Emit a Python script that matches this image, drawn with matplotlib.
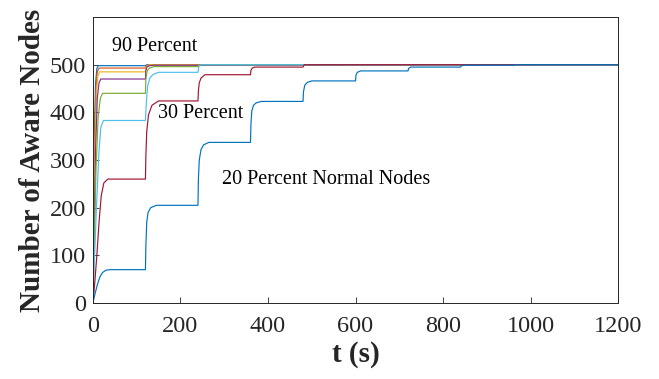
import matplotlib.pyplot as plt

plt.rcParams['font.family'] = ['Liberation Serif', 'DejaVu Serif']

# time (s) and aware-node counts, one pair per series
t90 = [0, 2, 4, 6, 9, 12, 120, 121, 124, 130, 1200]
n90 = [0, 200, 380, 460, 492, 498, 498, 499, 500, 500, 500]

t80 = [0, 2, 4, 7, 10, 14, 120, 121, 124, 130, 1200]
n80 = [0, 180, 350, 450, 485, 493, 493, 497, 499, 500, 500]

t70 = [0, 2, 5, 8, 11, 15, 120, 121, 124, 130, 1200]
n70 = [0, 160, 340, 440, 475, 485, 485, 494, 498, 500, 500]

t60 = [0, 3, 6, 10, 14, 18, 120, 121, 124, 130, 140, 1200]
n60 = [0, 150, 320, 430, 462, 470, 470, 488, 496, 498, 499, 500]

t50 = [0, 3, 7, 12, 17, 22, 120, 121, 124, 129, 140, 240, 242, 248, 1200]
n50 = [0, 120, 280, 390, 430, 440, 440, 470, 487, 493, 496, 496, 499, 500, 500]

t40 = [0, 3, 8, 14, 18, 24, 120, 122, 125, 130, 138, 150, 240, 242, 248, 1200]
n40 = [0, 80, 200, 320, 368, 383, 383, 420, 455, 472, 480, 484, 484, 497, 500, 500]

t30 = [0, 4, 9, 14, 19, 25, 34, 120, 121, 123, 127, 135, 150, 240, 241, 243, 247, 256,
       360, 361, 364, 370, 480, 483, 1200]
n30 = [0, 40, 100, 170, 225, 252, 260, 260, 310, 360, 395, 415, 424, 424, 445, 462, 472, 479,
       479, 488, 493, 495, 495, 500, 500]

t20 = [0, 5, 10, 16, 22, 30, 40, 120, 121, 123, 126, 132, 145, 240, 241, 243, 247, 253,
       265, 360, 361, 363, 367, 373, 385, 480, 481, 484, 490, 500, 600, 601, 604, 612,
       720, 721, 726, 840, 842, 850, 960, 965, 1200]
n20 = [0, 20, 38, 55, 64, 69, 70, 70, 120, 170, 190, 200, 205, 205, 260, 300, 322, 332,
       337, 337, 375, 403, 415, 420, 423, 423, 443, 457, 463, 466, 466, 478, 484, 487,
       487, 492, 495, 495, 498, 499, 499, 500, 500]

series = [(t90, n90, '#0072BD'), (t80, n80, '#D95319'), (t70, n70, '#EDB120'),
          (t60, n60, '#7E2F8E'), (t50, n50, '#77AC30'), (t40, n40, '#4DBEEE'),
          (t30, n30, '#A2142F'), (t20, n20, '#0072BD')]

fig = plt.figure(figsize=(6.59, 3.79), dpi=100)
ax = fig.add_axes([0.141, 0.2005, 0.797, 0.7545])

for t, n, c in series:
    ax.plot(t, n, color=c, linewidth=0.85)

ax.text(43, 538, '90 Percent', fontsize=14.5, va='center')
ax.text(149, 397, '30 Percent', fontsize=14.5, va='center')
ax.text(295, 259, '20 Percent Normal Nodes', fontsize=14.5, va='center')

ax.set_xlim(0, 1200)
ax.set_ylim(0, 600)
ax.set_xticks(range(0, 1201, 200))
ax.set_yticks(range(0, 501, 100))
ax.tick_params(direction='in', length=4, width=0.6, labelsize=17.5, colors='#262626',
               top=False, right=False)
ax.tick_params(axis='x', pad=9)
ax.tick_params(axis='y', pad=5)
for s in ax.spines.values():
    s.set_color('#262626')
    s.set_linewidth(0.7)

ax.set_xlabel('t (s)', fontsize=21, fontweight='bold', color='#262626', labelpad=3)
ax.set_ylabel('Number of Aware Nodes', fontsize=21, fontweight='bold', color='#262626',
              labelpad=3)

fig.savefig('out.png', dpi=100)
